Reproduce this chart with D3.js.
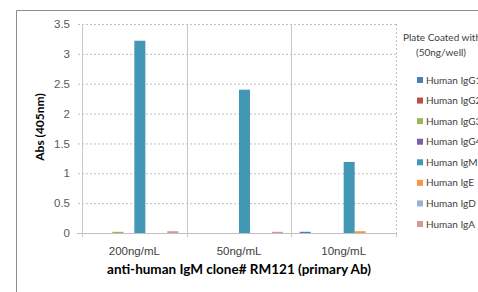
<!DOCTYPE html>
<html>
<head>
<meta charset="utf-8">
<script src="https://cdn.jsdelivr.net/npm/d3@7"></script>
<style>
  body { margin: 0; background: #fff; }
  svg { display: block; font-family: Lato, "Open Sans", sans-serif; }
</style>
</head>
<body>
<div class="container"></div>
<script>
// data
var categories = ['200ng/mL', '50ng/mL', '10ng/mL'];
var seriesNames = ['Human IgG1', 'Human IgG2', 'Human IgG3', 'Human IgG4',
                   'Human IgM', 'Human IgE', 'Human IgD', 'Human IgA'];
var igG1 = [0, 0, 0.02];
var igG2 = [0, 0, 0];
var igG3 = [0.02, 0, 0];
var igG4 = [0, 0, 0];
var igM  = [3.22, 2.40, 1.19];
var igE  = [0, 0, 0.03];
var igD  = [0, 0, 0];
var igA  = [0.03, 0.02, 0];
var yTicks = [0, 0.5, 1, 1.5, 2, 2.5, 3, 3.5];

var seriesValues = [igG1, igG2, igG3, igG4, igM, igE, igD, igA];
var colors = ['#4a7ebb', '#be4b48', '#98b954', '#7d60a0',
              '#4298b4', '#f79646', '#95b3d7', '#d99694'];

var w = 478, h = 292;
// note: "top" is reserved on window, so plot* names
var plotLeft = 82, plotRight = 396, plotTop = 24, plotBottom = 233;

var svg = d3.select('.container')
  .append('svg')
  .attr('width', w)
  .attr('height', h);

// outer chart frame (only left and top visible)
svg.append('path')
  .attr('d', 'M16.5,' + h + 'V10.5H' + w)
  .attr('fill', 'none')
  .attr('stroke', '#8c8c8c');

var x0 = d3.scaleBand()
  .domain(categories)
  .range([plotLeft, plotRight]);

var x1 = d3.scaleBand()
  .domain(seriesNames)
  .range([0, x0.bandwidth()])
  .paddingOuter(0.76);

var yScale = d3.scaleLinear()
  .domain([0, 3.5])
  .range([plotBottom, plotTop]);

/* y axis + horizontal gridlines */
var yAxis = d3.axisLeft(yScale)
  .tickValues(yTicks)
  .tickFormat(function(d) { return d; })
  .tickSize(plotRight - plotLeft + 5)
  .tickPadding(7);

var gy = svg.append('g')
  .attr('transform', 'translate(' + plotRight + ',0)')
  .call(yAxis);
gy.select('.domain').remove();
gy.selectAll('line')
  .attr('stroke', '#bfbfbf')
  .attr('stroke-dasharray', function(d) { return d === 0 ? null : '2,2'; });
gy.selectAll('text')
  .attr('fill', '#595959')
  .style('font-size', '11.5px');

/* category separators */
var bounds = categories.map(function(c) { return x0(c); });
svg.selectAll('.sep')
  .data(bounds)
  .enter()
  .append('line')
  .attr('class', 'sep')
  .attr('x1', function(d) { return Math.round(d) + 0.5; })
  .attr('x2', function(d) { return Math.round(d) + 0.5; })
  .attr('y1', plotTop)
  .attr('y2', plotBottom + 4)
  .attr('stroke', '#c8c8c8');

// right edge: dashed to the axis, small tick below
var rx = Math.round(x0.range()[1]) + 0.5;
svg.append('line')
  .attr('x1', rx).attr('x2', rx)
  .attr('y1', plotTop).attr('y2', plotBottom)
  .attr('stroke', '#bfbfbf')
  .attr('stroke-dasharray', '2,2');
svg.append('line')
  .attr('x1', rx).attr('x2', rx)
  .attr('y1', plotBottom).attr('y2', plotBottom + 4)
  .attr('stroke', '#c8c8c8');

/* category labels */
var xAxis = d3.axisBottom(x0).tickSize(0).tickPadding(14);
var gx = svg.append('g')
  .attr('transform', 'translate(0,' + plotBottom + ')')
  .call(xAxis);
gx.select('.domain').remove();
gx.selectAll('text')
  .attr('fill', '#404040')
  .style('font-size', '11.5px');

/* bars */
var groups = svg.selectAll('.cat')
  .data(categories)
  .enter()
  .append('g')
  .attr('class', 'cat')
  .attr('transform', function(d) { return 'translate(' + x0(d) + ',0)'; });

groups.selectAll('rect')
  .data(function(c, ci) {
    return seriesNames.map(function(s, si) {
      return { name: s, value: seriesValues[si][ci], color: colors[si] };
    });
  })
  .enter()
  .append('rect')
  .attr('x', function(d) { return x1(d.name); })
  .attr('width', x1.bandwidth())
  .attr('y', function(d) { return yScale(d.value); })
  .attr('height', function(d) { return plotBottom - yScale(d.value); })
  .attr('fill', function(d) { return d.color; });

/* axis titles */
svg.append('text')
  .attr('x', 239)
  .attr('y', 274)
  .attr('text-anchor', 'middle')
  .style('font-size', '13.5px')
  .style('font-weight', 'bold')
  .attr('fill', '#000')
  .text('anti-human IgM clone# RM121 (primary Ab)');

svg.append('text')
  .attr('transform', 'translate(44,127) rotate(-90)')
  .attr('text-anchor', 'middle')
  .style('font-size', '12px')
  .style('font-weight', 'bold')
  .attr('fill', '#000')
  .text('Abs (405nm)');

/* legend */
svg.append('text')
  .attr('x', 403).attr('y', 41)
  .style('font-size', '10px')
  .attr('fill', '#404040')
  .text('Plate Coated with');
svg.append('text')
  .attr('x', 416).attr('y', 56)
  .style('font-size', '10px')
  .attr('fill', '#404040')
  .text('(50ng/well)');

var legendY = d3.scalePoint()
  .domain(seriesNames)
  .range([80, 224]);

var legend = svg.selectAll('.key')
  .data(seriesNames)
  .enter()
  .append('g')
  .attr('class', 'key')
  .attr('transform', function(d) { return 'translate(0,' + legendY(d) + ')'; });

legend.append('rect')
  .attr('x', 417).attr('y', -3)
  .attr('width', 6).attr('height', 6)
  .attr('fill', function(d, i) { return colors[i]; });

legend.append('text')
  .attr('x', 426).attr('y', 0)
  .attr('dy', '0.35em')
  .style('font-size', '10px')
  .attr('fill', '#404040')
  .text(function(d) { return d; });
</script>
</body>
</html>
